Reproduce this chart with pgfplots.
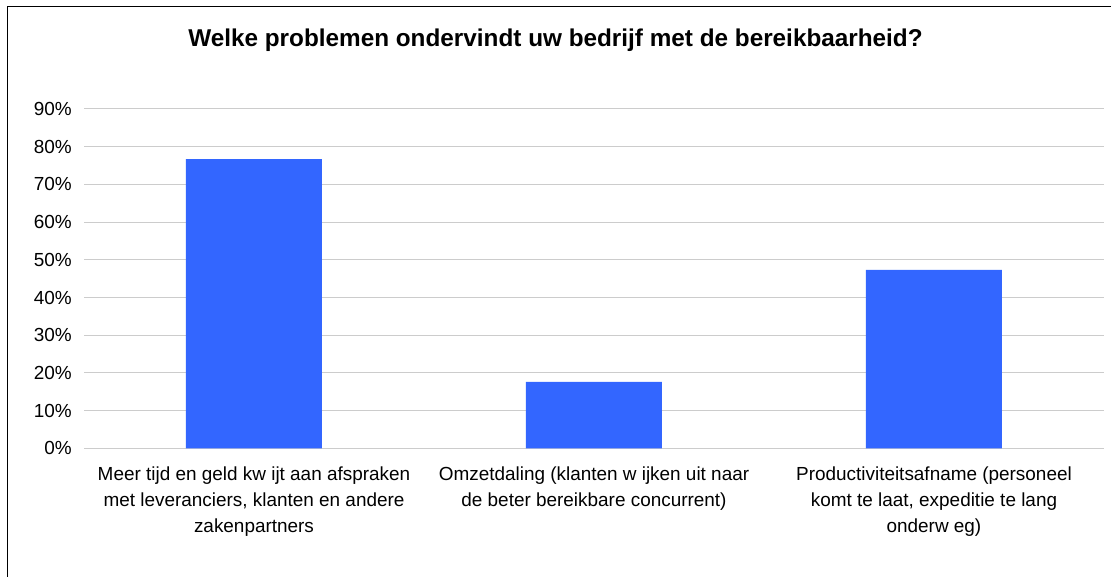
\documentclass[border=0pt]{standalone}
\usepackage{pgfplots}
\pgfplotsset{compat=1.18}
\usepackage{fontspec}
\setmainfont{Liberation Sans}
\definecolor{barblue}{HTML}{3366FF}
\definecolor{gridgray}{HTML}{CCCCCC}
\begin{document}
\begin{tikzpicture}[x=1bp,y=1bp]
\useasboundingbox (0,0) rectangle (1111,577);
\draw[line width=1.5bp, black] (7.5,-20) -- (7.5,570.5) -- (1130,570.5);
\node[anchor=base, font=\fontsize{24.4}{29}\selectfont\bfseries] at (555.5,530.8) {Welke problemen ondervindt uw bedrijf met de bereikbaarheid?};
\begin{axis}[
  at={(84bp,128.7bp)}, anchor=south west,
  scale only axis, width=1020bp, height=339.3bp,
  xmin=-0.5, xmax=2.5, ymin=0, ymax=90,
  axis line style={draw=none},
  ymajorgrids, major grid style={gridgray, line width=1bp},
  major tick length=0pt,
  ytick={0,10,20,30,40,50,60,70,80,90},
  yticklabels={0\%,10\%,20\%,30\%,40\%,50\%,60\%,70\%,80\%,90\%},
  yticklabel style={font=\fontsize{19}{23}\selectfont, anchor=east, xshift=-8.7bp},
  xtick={0,1,2},
  xticklabels={{Meer tijd en geld kw ijt aan afspraken\\met leveranciers, klanten en andere\\zakenpartners},
               {Omzetdaling (klanten w ijken uit naar\\de beter bereikbare concurrent)},
               {Productiviteitsafname (personeel\\komt te laat, expeditie te lang\\onderw eg)}},
  xticklabel style={font=\fontsize{19}{26.5}\selectfont, align=center, anchor=north, yshift=-14.5bp},
]
\addplot[ybar, bar width=0.4, fill=barblue, draw=none] coordinates {(0,76.7) (1,17.6) (2,47.3)};
\end{axis}
\end{tikzpicture}
\end{document}
